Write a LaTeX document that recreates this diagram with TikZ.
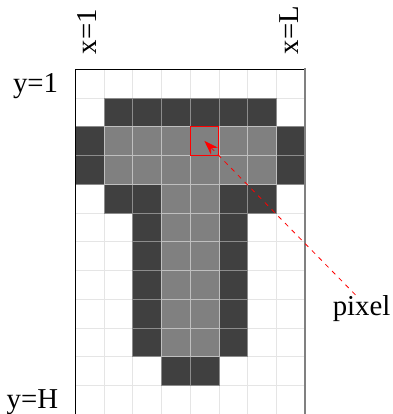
\documentclass[tikz,border=0pt]{standalone}
\usepackage{fontspec}
\setmainfont{Liberation Serif}
\usepackage{tikz}
\usetikzlibrary{arrows.meta, positioning}

\begin{document}
\begin{tikzpicture}[
    cell/.style={rectangle, minimum size=1cm, inner sep=0pt, outer sep=0pt,
                 draw=black!10, fill=white},
    gcell/.style={cell, fill=black!50, draw=black!25},
    dcell/.style={cell, fill=black!75, draw=black!45},
    pick/.style={rectangle, minimum size=1cm, inner sep=0pt, outer sep=0pt,
                 draw=red, line width=0.7pt},
    lbl/.style={inner sep=0pt, font=\fontsize{28.5}{34}\selectfont},
    ar/.style={-{Stealth[length=5mm, width=3.4mm]}, draw=red, line width=0.8pt,
               dash pattern=on 4.5pt off 5pt}
]
\useasboundingbox (-2.609,-12) rectangle (11.026,2.4);
% 0 = empty, 1 = light, 2 = dark; drawn in three passes
\foreach \k/\st in {0/cell, 2/dcell, 1/gcell} {
  \foreach \r [count=\y] in {{0,0,0,0,0,0,0,0},{0,2,2,2,2,2,2,0},
      {2,1,1,1,1,1,1,2},{2,1,1,1,1,1,1,2},{0,2,2,1,1,2,2,0},
      {0,0,2,1,1,2,0,0},{0,0,2,1,1,2,0,0},{0,0,2,1,1,2,0,0},
      {0,0,2,1,1,2,0,0},{0,0,2,1,1,2,0,0},{0,0,0,2,2,0,0,0},
      {0,0,0,0,0,0,0,0}} {
    \foreach \v [count=\x] in \r {
      \ifnum\v=\k \node[\st] (c-\x-\y) at (\x-0.5,0.5-\y) {}; \fi
    }
  }
}
% frame
\draw[black, line width=0.8pt] (c-1-12.south west) -- (c-1-1.north west) -- (c-8-1.north east);
\draw[black!50, line width=2.2pt] ([yshift=0.6pt]c-8-1.north east) -- (c-8-12.south east);
\node[pick] (sel) at (c-5-3.center) {};
% axis labels
\node[lbl, rotate=90, anchor=west] (x1) at (0.43,0.51) {x=1};
\node[lbl, rotate=90, anchor=west] (xL) at (7.43,0.51) {x=L};
\node[lbl, anchor=base east] (y1) at (-0.58,-0.8) {y=1};
\node[lbl, anchor=base east] (yH) at (-0.58,-11.8) {y=H};
\node[lbl, anchor=base west] (pixel) at (8.96,-8.557) {pixel};
\draw[ar] (pixel.115) -- (sel.center);
\end{tikzpicture}
\end{document}
